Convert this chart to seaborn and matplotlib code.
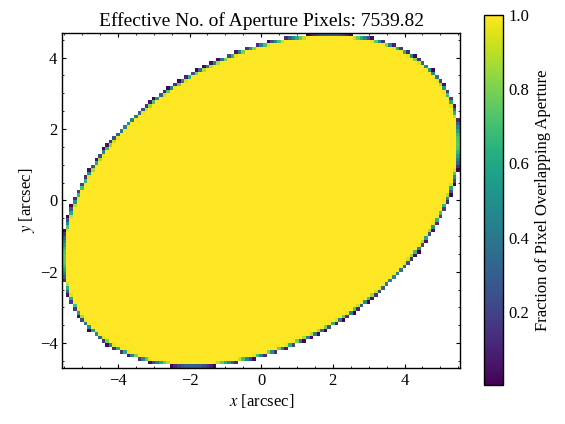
import numpy as np
import matplotlib
matplotlib.use("Agg")
import matplotlib.pyplot as plt
import seaborn as sns
from matplotlib.ticker import MultipleLocator

# --- aperture / image parameters ---
semi_major = 6.0          # arcsec
semi_minor = 4.0          # arcsec
theta_deg = 31.5          # rotation of major axis
center = (0.0, 0.0)       # arcsec
pixel_scale = 0.1         # arcsec per pixel
x_edges_lim = (-5.55, 5.55)
y_edges_lim = (-4.7, 4.7)
x_ticks = [-4, -2, 0, 2, 4]
y_ticks = [-4, -2, 0, 2, 4]
cbar_ticks = [0.2, 0.4, 0.6, 0.8, 1.0]
title_value = np.pi * semi_major * semi_minor / pixel_scale**2

sns.set_style("ticks")
plt.rcParams["font.family"] = ["Liberation Serif", "DejaVu Serif"]
plt.rcParams["mathtext.fontset"] = "stix"
plt.rcParams.update({
    "xtick.direction": "in", "ytick.direction": "in",
    "xtick.top": True, "ytick.right": True,
    "xtick.major.size": 3.0, "ytick.major.size": 3.0,
    "xtick.minor.size": 1.6, "ytick.minor.size": 1.6,
    "xtick.minor.visible": True, "ytick.minor.visible": True,
    "axes.linewidth": 1.0, "xtick.major.width": 0.8, "ytick.major.width": 0.8,
    "xtick.minor.width": 0.6, "ytick.minor.width": 0.6,
    "xtick.color": "black", "ytick.color": "black",
    "xtick.labelcolor": "black", "ytick.labelcolor": "black",
    "axes.edgecolor": "black", "text.color": "black",
    "axes.labelcolor": "black", "axes.titlecolor": "black",
})

# pixel edges
nx = int(round((x_edges_lim[1] - x_edges_lim[0]) / pixel_scale))
ny = int(round((y_edges_lim[1] - y_edges_lim[0]) / pixel_scale))
xe = np.linspace(x_edges_lim[0], x_edges_lim[1], nx + 1)
ye = np.linspace(y_edges_lim[0], y_edges_lim[1], ny + 1)

# supersampled fractional overlap
ss = 20
xs = x_edges_lim[0] + (np.arange(nx * ss) + 0.5) * pixel_scale / ss
ys = y_edges_lim[0] + (np.arange(ny * ss) + 0.5) * pixel_scale / ss
X, Y = np.meshgrid(xs - center[0], ys - center[1])
t = np.deg2rad(theta_deg)
u = (X * np.cos(t) + Y * np.sin(t)) / semi_major
v = (-X * np.sin(t) + Y * np.cos(t)) / semi_minor
inside = (u**2 + v**2 <= 1.0).astype(float)
frac = inside.reshape(ny, ss, nx, ss).mean(axis=(1, 3))
masked = np.ma.masked_where(frac <= 0, frac)
vmin = frac[frac > 0].min()

fig = plt.figure(figsize=(5.65, 4.24), dpi=100)
ax = fig.add_axes([0.1103, 0.132, 0.704, 0.791])
mesh = ax.pcolormesh(xe, ye, masked, cmap="viridis", vmin=vmin, vmax=1.0,
                     shading="flat", rasterized=True)
ax.set_xlim(x_edges_lim)
ax.set_ylim(y_edges_lim)
ax.set_xticks(x_ticks)
ax.set_yticks(y_ticks)
ax.xaxis.set_minor_locator(MultipleLocator(0.5))
ax.yaxis.set_minor_locator(MultipleLocator(0.5))
ax.tick_params(labelsize=12)
ax.set_xlabel("$x$ [arcsec]", fontsize=12, labelpad=2)
ax.set_ylabel("$y$ [arcsec]", fontsize=12, labelpad=2)
ax.set_title(f"Effective No. of Aperture Pixels: {title_value:.2f}", fontsize=14, pad=5)

cax = fig.add_axes([484 / 565, 39 / 424, 19.3 / 565, 370 / 424])
cb = fig.colorbar(mesh, cax=cax)
cb.set_ticks(cbar_ticks)
cax.yaxis.set_minor_locator(MultipleLocator(0.05))
cax.tick_params(which="both", direction="in", labelsize=12, left=False, right=True)
cb.outline.set_linewidth(1.0)
cb.set_label("Fraction of Pixel Overlapping Aperture", fontsize=12)

fig.savefig("out.png", dpi=100)
